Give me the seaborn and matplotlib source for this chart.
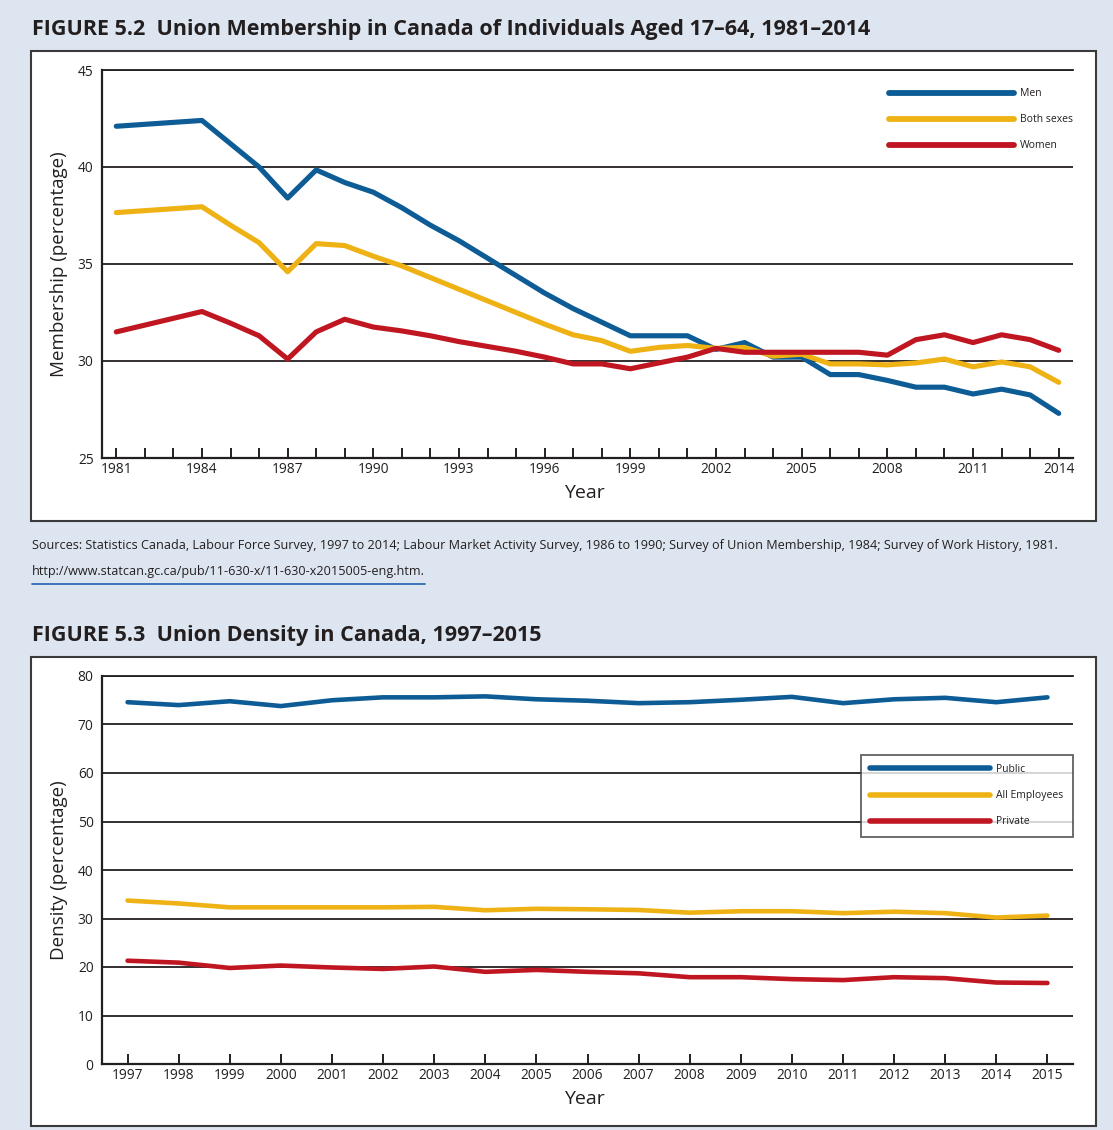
import matplotlib
matplotlib.use("Agg")
import matplotlib.pyplot as plt
from matplotlib import font_manager
from matplotlib.patches import Rectangle
from matplotlib.lines import Line2D
import seaborn as sns
import pandas as pd

# Figure 5.2 data: union membership, ages 17-64
years_52 = list(range(1981, 2015))
men = [42.1, 42.2, 42.3, 42.4, 41.2, 40.0, 38.4, 39.85, 39.2, 38.7,
       37.9, 37.0, 36.2, 35.3, 34.4, 33.5, 32.7, 32.0, 31.3, 31.3,
       31.3, 30.6, 30.95, 30.2, 30.2, 29.3, 29.3, 29.0, 28.65, 28.65,
       28.3, 28.55, 28.25, 27.3]
both_sexes = [37.65, 37.75, 37.85, 37.95, 37.0, 36.1, 34.6, 36.05, 35.95, 35.4,
              34.9, 34.3, 33.7, 33.1, 32.5, 31.9, 31.35, 31.05, 30.5, 30.7,
              30.8, 30.65, 30.7, 30.25, 30.35, 29.85, 29.85, 29.8, 29.9, 30.1,
              29.7, 29.95, 29.7, 28.9]
women = [31.5, 31.85, 32.2, 32.55, 31.95, 31.3, 30.1, 31.5, 32.15, 31.75,
         31.55, 31.3, 31.0, 30.75, 30.5, 30.2, 29.85, 29.85, 29.6, 29.9,
         30.2, 30.65, 30.45, 30.45, 30.45, 30.45, 30.45, 30.3, 31.1, 31.35,
         30.95, 31.35, 31.1, 30.55]

# Figure 5.3 data: union density
years_53 = list(range(1997, 2016))
public = [74.6, 74.0, 74.8, 73.8, 75.0, 75.6, 75.6, 75.8, 75.2, 74.9,
          74.4, 74.6, 75.1, 75.7, 74.4, 75.2, 75.5, 74.6, 75.6]
all_employees = [33.7, 33.1, 32.3, 32.3, 32.3, 32.3, 32.4, 31.7, 32.0, 31.9,
                 31.75, 31.2, 31.5, 31.5, 31.1, 31.4, 31.1, 30.2, 30.6]
private = [21.3, 20.9, 19.8, 20.3, 19.9, 19.6, 20.1, 19.0, 19.4, 19.0,
           18.7, 17.9, 17.9, 17.5, 17.3, 17.9, 17.7, 16.8, 16.7]

BLUE = "#0d5c96"
YELLOW = "#eeb215"
RED = "#bf1621"
INK = "#231f20"
BG = "#dde6f0"

sns.set_style("ticks")

# pick a narrow face for the small text if one is installed
names = {f.name for f in font_manager.fontManager.ttflist}
if "Liberation Sans Narrow" in names:
    NARROW = dict(family=["Liberation Sans Narrow", "DejaVu Sans"])
else:
    NARROW = dict(family=["Open Sans", "DejaVu Sans"])

plt.rcParams["font.family"] = ["Open Sans", "DejaVu Sans"]
plt.rcParams["text.color"] = INK
plt.rcParams["axes.labelcolor"] = INK
plt.rcParams["xtick.color"] = INK
plt.rcParams["ytick.color"] = INK

W, H = 1113, 1130
fig = plt.figure(figsize=(W / 100, H / 100), dpi=100)
fig.patch.set_facecolor(BG)


def px_box(x0, y0, x1, y1):
    # pixel box (top-left origin) -> figure fraction rect
    return [x0 / W, (H - y1) / H, (x1 - x0) / W, (y1 - y0) / H]


def narrow(size):
    return font_manager.FontProperties(size=size, **NARROW)


# white panels
for y0, y1 in [(51, 521), (657, 1126)]:
    l, b, w, h = px_box(31, y0, 1096, y1)
    fig.patches.append(Rectangle((l, b), w, h, transform=fig.transFigure,
                                 facecolor="white", edgecolor="#3a3a3a", lw=1.5, zorder=-5))

# titles
title_font = dict(fontweight="bold", fontsize=15.5, color=INK)
fig.text(32 / W, 1 - 29 / H, "FIGURE 5.2  Union Membership in Canada of Individuals Aged 17\u201364, 1981\u20132014",
         va="center", ha="left", **title_font)
fig.text(32 / W, 1 - 636 / H, "FIGURE 5.3  Union Density in Canada, 1997\u20132015",
         va="center", ha="left", **title_font)

# sources
src = ("Sources: Statistics Canada, Labour Force Survey, 1997 to 2014; Labour Market Activity Survey, 1986 to 1990; "
       "Survey of Union Membership, 1984; Survey of Work History, 1981.")
t_src = fig.text(32 / W, 1 - 546 / H, src, va="center", ha="left", fontproperties=narrow(10.5), color=INK)
t_url = fig.text(32 / W, 1 - 572 / H, "http://www.statcan.gc.ca/pub/11-630-x/11-630-x2015005-eng.htm.",
                 va="center", ha="left", fontproperties=narrow(10.5), color=INK)
# fit the sources line to the width it takes in the print
renderer = fig.canvas.get_renderer()
scale = min(1.0, 1030 / t_src.get_window_extent(renderer).width)
t_src.set_fontsize(10.5 * scale)
t_url.set_fontsize(10.5 * scale)
url_w = t_url.get_window_extent(renderer).width
fig.lines.append(Line2D([32 / W, (32 + url_w) / W], [1 - 584 / H, 1 - 584 / H], transform=fig.transFigure,
                        color="#2f6db5", lw=1.3))


def style_axes(ax, ylim, yticks, xlim, lw_grid=1.3):
    ax.set_xlim(*xlim)
    ax.set_ylim(*ylim)
    ax.set_yticks(yticks)
    ax.yaxis.grid(True, color=INK, lw=lw_grid, zorder=0)
    ax.set_axisbelow(True)
    ax.spines["right"].set_visible(False)
    ax.spines["top"].set_color(INK)
    ax.spines["top"].set_linewidth(lw_grid)
    for s in ["left", "bottom"]:
        ax.spines[s].set_color(INK)
        ax.spines[s].set_linewidth(1.6)
    ax.tick_params(axis="y", length=0, pad=6)
    ax.tick_params(axis="x", direction="in", length=7, width=1.4, pad=3)
    for lab in ax.get_xticklabels() + ax.get_yticklabels():
        lab.set_fontproperties(narrow(10.5 * scale * 1.08))


# ---- Figure 5.2 ----
df52 = pd.DataFrame({
    "Year": years_52 * 3,
    "Membership": men + both_sexes + women,
    "Group": ["Men"] * len(years_52) + ["Both sexes"] * len(years_52) + ["Women"] * len(years_52),
})
ax1 = fig.add_axes(px_box(102, 70, 1073, 458))
sns.lineplot(data=df52, x="Year", y="Membership", hue="Group",
             palette={"Men": BLUE, "Both sexes": YELLOW, "Women": RED},
             linewidth=3.7, ax=ax1, legend=False)
ax1.set_xticks(years_52)
ax1.set_xticklabels([str(y) if (y - 1981) % 3 == 0 else "" for y in years_52])
style_axes(ax1, (25, 45), [25, 30, 35, 40, 45], (1980.5, 2014.5))
ax1.set_ylabel("Membership (percentage)", fontsize=13.5)
ax1.yaxis.set_label_coords(-0.035, 0.5)
ax1.set_xlabel("Year", fontsize=14)
ax1.xaxis.set_label_coords(0.497, -0.068)
h1 = [Line2D([], [], color=c, lw=4.2, solid_capstyle="round") for c in (BLUE, YELLOW, RED)]
ax1.legend(h1, ["Men", "Both sexes", "Women"], loc="upper right", bbox_to_anchor=(1.0, 0.953),
           frameon=False, prop=narrow(7.5), borderaxespad=0, borderpad=0,
           handlelength=12.0, handletextpad=0.6, labelspacing=1.45)

# ---- Figure 5.3 ----
df53 = pd.DataFrame({
    "Year": years_53 * 3,
    "Density": public + all_employees + private,
    "Sector": ["Public"] * len(years_53) + ["All Employees"] * len(years_53) + ["Private"] * len(years_53),
})
ax2 = fig.add_axes(px_box(102, 676, 1073, 1064))
sns.lineplot(data=df53, x="Year", y="Density", hue="Sector",
             palette={"Public": BLUE, "All Employees": YELLOW, "Private": RED},
             linewidth=3.3, ax=ax2, legend=False)
ax2.set_xticks(years_53)
ax2.set_xticklabels([str(y) for y in years_53])
style_axes(ax2, (0, 80), list(range(0, 81, 10)), (1996.5, 2015.5))
ax2.set_ylabel("Density (percentage)", fontsize=13.5)
ax2.yaxis.set_label_coords(-0.035, 0.5)
ax2.set_xlabel("Year", fontsize=14)
ax2.xaxis.set_label_coords(0.497, -0.066)
h2 = [Line2D([], [], color=c, lw=4.0, solid_capstyle="round") for c in (BLUE, YELLOW, RED)]
leg2 = ax2.legend(h2, ["Public", "All Employees", "Private"], loc="upper right",
                  bbox_to_anchor=(1.0, 0.797), frameon=True, fancybox=False,
                  prop=narrow(7.5), borderaxespad=0, borderpad=0.9,
                  handlelength=11.5, handletextpad=0.6, labelspacing=1.45)
leg2.get_frame().set_edgecolor("#3a3a3a")
leg2.get_frame().set_linewidth(1.3)

fig.savefig("out.png", dpi=100, facecolor=BG)
